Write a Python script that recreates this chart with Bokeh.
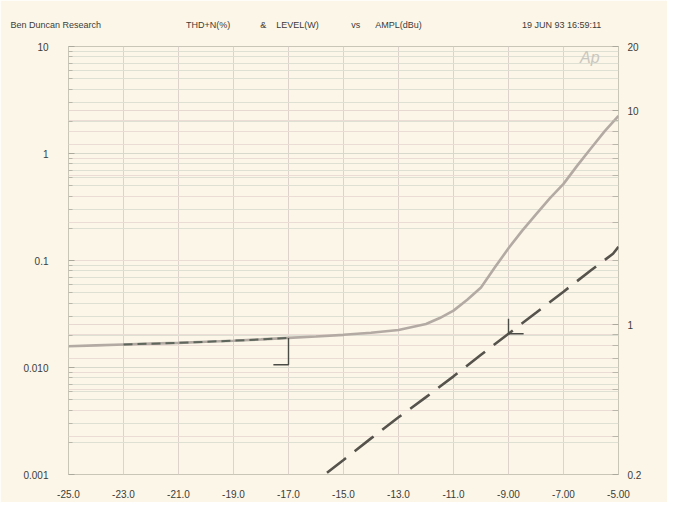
from bokeh.plotting import figure
from bokeh.models import (Range1d, LogScale, LogAxis, FixedTicker, Grid, Label, Title)
from bokeh.embed import file_html
from bokeh.resources import INLINE

# ---- data ----
thd_x = [-25, -24, -23, -22, -21, -20, -19, -18, -17, -16, -15, -14, -13, -12,
         -11.5, -11, -10.5, -10, -9.5, -9, -8.5, -8, -7.5, -7, -6.5, -6, -5.5, -5]
thd_y = [0.0158, 0.0161, 0.0164, 0.0167, 0.0170, 0.0174, 0.0178, 0.0183, 0.0189,
         0.0195, 0.0202, 0.0211, 0.0224, 0.0255, 0.029, 0.034, 0.043, 0.056,
         0.086, 0.13, 0.19, 0.27, 0.38, 0.52, 0.77, 1.12, 1.62, 2.25]

lvl_x = [-15.6, -15, -14, -13, -12, -11, -10, -9, -8, -7, -6, -5.2, -5]
lvl_y = [0.204, 0.234, 0.295, 0.37, 0.46, 0.575, 0.725, 0.91, 1.14, 1.43, 1.8, 2.15, 2.32]

cur1_x = [-17, -17, -17.55]
cur1_y = [0.0189, 0.0106, 0.0106]
cur2_x = [-9, -9]
cur2_y = [1.07, 0.91]
cur3_x = [-9, -8.45]
cur3_y = [0.91, 0.91]

x_ticks = [-25, -23, -21, -19, -17, -15, -13, -11, -9, -7, -5]
x_labels = ["-25.0", "-23.0", "-21.0", "-19.0", "-17.0", "-15.0", "-13.0",
            "-11.0", "-9.00", "-7.00", "-5.00"]
left_ticks = [0.001, 0.01, 0.1, 1, 10]
left_labels = ["0.001", "0.010", "0.1", "1", "10"]
right_ticks = [0.2, 1, 10, 20]
right_labels = ["0.2", "1", "10", "20"]

title_texts = ["Ben Duncan Research", "THD+N(%)", "&", "LEVEL(W)", "vs",
               "AMPL(dBu)", "19 JUN 93 16:59:11"]
title_gaps = [34, 12, 4, 13, 6, 40]   # spacing (non-breaking spaces) between header items

FONT = "Liberation Sans"
BG = "#fbf6e8"
TXT = "#3c3c38"

p = figure(width=667, height=502, output_backend="svg", toolbar_location=None,
           x_range=Range1d(-25, -5), y_range=Range1d(0.001, 10),
           y_axis_type="log", frame_width=550, frame_height=428,
           min_border_left=68, min_border_right=49, min_border_top=46,
           min_border_bottom=28, background_fill_color=BG,
           border_fill_color=BG, outline_line_color="#c9c6b8")

header = title_texts[0]
for g, t in zip(title_gaps, title_texts[1:]):
    header += "\u00a0" * g + t
p.add_layout(Title(text=header, align="left", offset=-58, standoff=33,
                   text_font=FONT, text_font_size="9px",
                   text_font_style="normal", text_color=TXT), "above")

p.extra_y_ranges = {"right": Range1d(0.2, 20)}
p.extra_y_scales = {"right": LogScale()}

# left axis
minor_left = [m * 10 ** d for d in range(-3, 1) for m in range(2, 10)]
ya = p.yaxis[0]
ya.ticker = FixedTicker(ticks=left_ticks, minor_ticks=minor_left)
ya.major_label_overrides = {t: l for t, l in zip(left_ticks, left_labels)}
ya.axis_line_color = None
ya.major_tick_in = 6
ya.major_tick_out = 0
ya.minor_tick_in = 4
ya.minor_tick_out = 0
ya.major_tick_line_color = "#aaa99c"
ya.minor_tick_line_color = "#b8b7aa"
ya.major_label_standoff = 20
ya.major_label_text_font = FONT
ya.major_label_text_font_size = "10px"
ya.major_label_text_color = TXT

# right axis
minor_right = [0.3, 0.4, 0.5, 0.6, 0.7, 0.8, 0.9, 2, 3, 4, 5, 6, 7, 8, 9]
ra = LogAxis(y_range_name="right")
ra.ticker = FixedTicker(ticks=right_ticks, minor_ticks=minor_right)
ra.major_label_overrides = {t: l for t, l in zip(right_ticks, right_labels)}
ra.axis_line_color = None
ra.major_tick_in = 6
ra.major_tick_out = 0
ra.minor_tick_in = 6
ra.minor_tick_out = 0
ra.major_tick_line_color = "#aaa99c"
ra.minor_tick_line_color = "#b8b7aa"
ra.major_label_standoff = 9
ra.major_label_text_font = FONT
ra.major_label_text_font_size = "10px"
ra.major_label_text_color = TXT
p.add_layout(ra, "right")

# x axis
xa = p.xaxis[0]
xa.ticker = FixedTicker(ticks=x_ticks)
xa.major_label_overrides = {t: l for t, l in zip(x_ticks, x_labels)}
xa.axis_line_color = None
xa.major_tick_in = 0
xa.major_tick_out = 0
xa.minor_tick_line_color = None
xa.major_label_standoff = 15
xa.major_label_text_font = FONT
xa.major_label_text_font_size = "10px"
xa.major_label_text_color = TXT

# grids
p.xgrid.grid_line_color = "#ddd2cc"
p.xgrid.grid_line_width = 1
p.ygrid.grid_line_color = "#d6d9cc"
p.ygrid.minor_grid_line_color = "#dfe0d4"
p.ygrid.grid_line_width = 1
rgrid = Grid(dimension=1, ticker=ra.ticker, y_range_name="right",
             grid_line_color="#e8d8d2", minor_grid_line_color="#ecdcd6")
p.add_layout(rgrid)

# THD+N curve
p.line(thd_x, thd_y, line_color="#b3aaa4", line_width=2.6)
p.line(thd_x[2:9], thd_y[2:9], line_color="#5e665c", line_width=2,
       line_dash="9 5")
p.line(cur1_x, cur1_y, line_color="#4c4c46", line_width=1.4)

# LEVEL curve
p.line(lvl_x, lvl_y, y_range_name="right", line_color="#56524c",
       line_width=2.6, line_dash="24 11")
p.line(cur2_x, cur2_y, y_range_name="right", line_color="#4c4c46", line_width=1.4)
p.line(cur3_x, cur3_y, y_range_name="right", line_color="#4c4c46", line_width=1.4)

# Ap logo
p.add_layout(Label(x=-6.4, y=7.9, text="Ap", text_font=FONT,
                   text_font_style="italic", text_font_size="16px",
                   text_color="#c9c7c0", text_baseline="middle"))

open("out.html", "w").write(file_html(p, INLINE))
